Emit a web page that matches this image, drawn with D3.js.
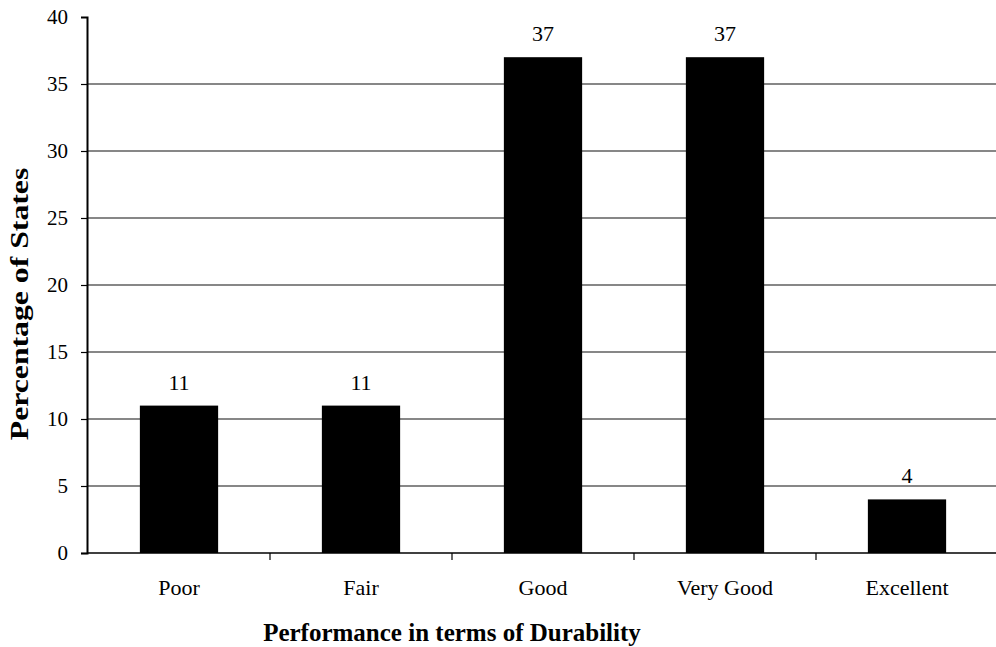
<!DOCTYPE html>
<html>
<head>
<meta charset="utf-8">
<script src="https://cdn.jsdelivr.net/npm/d3@7"></script>
<style>
  html, body { margin: 0; padding: 0; background: #fff; }
  svg { display: block; }
  text { font-family: "Liberation Serif", "Times New Roman", serif; fill: #000; }
</style>
</head>
<body>
<script>
const categories = ["Poor", "Fair", "Good", "Very Good", "Excellent"];
const values = [11, 11, 37, 37, 4];
const yTicks = [0, 5, 10, 15, 20, 25, 30, 35, 40];
const xTitle = "Performance in terms of Durability";
const yTitle = "Percentage of States";

const W = 996, H = 647;
const svg = d3.select("body").append("svg").attr("width", W).attr("height", H);

const x = d3.scaleBand().domain(categories).range([88, 998]).paddingInner(0.57).paddingOuter(0.285);
const xb = d3.scaleBand().domain(categories).range([88, 998]);
const y = d3.scaleLinear().domain([0, 40]).range([553, 17]);

// gridlines
svg.append("g").selectAll("line").data(yTicks.filter(t => t > 0 && t < 40)).join("line")
  .attr("x1", 87).attr("x2", W).attr("y1", d => y(d)).attr("y2", d => y(d))
  .attr("stroke", "#111").attr("stroke-width", 1.2);

// bars
svg.append("g").selectAll("rect").data(values).join("rect")
  .attr("x", (d, i) => x(categories[i]))
  .attr("width", x.bandwidth())
  .attr("y", d => y(d))
  .attr("height", d => y(0) - y(d))
  .attr("fill", "#000");

// value labels
svg.append("g").selectAll("text").data(values).join("text")
  .attr("x", (d, i) => x(categories[i]) + x.bandwidth() / 2)
  .attr("y", d => y(d) - 16)
  .attr("text-anchor", "middle")
  .attr("font-size", 22)
  .text(d => d);

// y axis
const yAxis = d3.axisLeft(y).tickValues(yTicks).tickSize(6).tickPadding(13);
const gy = svg.append("g").attr("transform", "translate(87,0)").call(yAxis);
gy.select(".domain").attr("stroke", "#000").attr("stroke-width", 2);
gy.selectAll(".tick line").attr("stroke", "#000").attr("stroke-width", 1.2);
gy.selectAll(".tick").filter(d => d === 40).select("line").remove();
gy.selectAll(".tick text").attr("font-size", 21).attr("font-family", "Liberation Serif").attr("fill", "#000");

// x axis
const xAxis = d3.axisBottom(xb).tickSize(0).tickPadding(26);
const gx = svg.append("g").attr("transform", "translate(0,553)").call(xAxis);
gx.select(".domain").attr("d", "M87,0H" + W).attr("stroke", "#000").attr("stroke-width", 1.5);
gx.selectAll(".tick text").attr("font-size", 22).attr("font-family", "Liberation Serif").attr("fill", "#000");
// boundary ticks between categories
gx.append("g").selectAll("line").data(categories.slice(1)).join("line")
  .attr("x1", d => xb(d)).attr("x2", d => xb(d)).attr("y1", 0).attr("y2", 7)
  .attr("stroke", "#000").attr("stroke-width", 1.2);

// axis titles
svg.append("text").attr("x", 452).attr("y", 641).attr("text-anchor", "middle")
  .attr("font-size", 25).attr("font-weight", "bold").text(xTitle);
svg.append("text").attr("transform", "translate(28,304) rotate(-90) scale(1.22,1)").attr("text-anchor", "middle")
  .attr("font-size", 26).attr("font-weight", "bold").text(yTitle);
</script>
</body>
</html>
